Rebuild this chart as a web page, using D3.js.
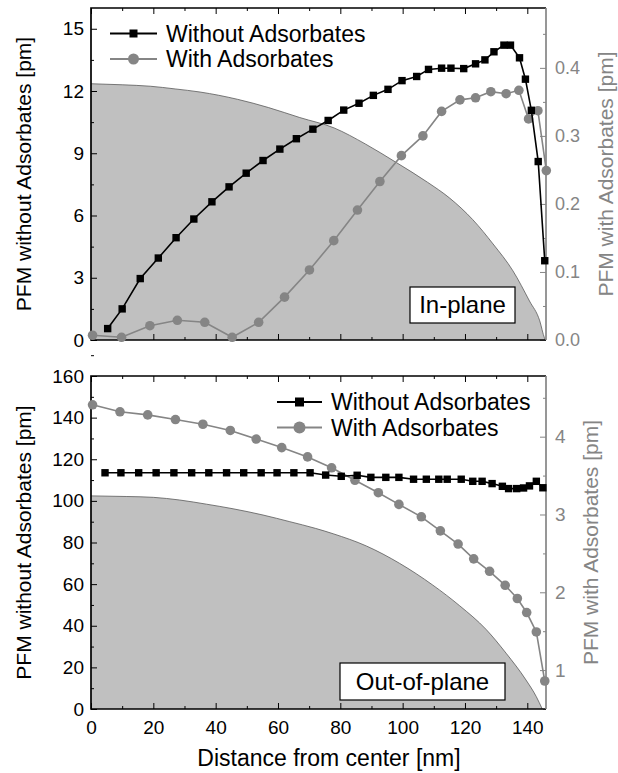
<!DOCTYPE html>
<html>
<head>
<meta charset="utf-8">
<script src="https://cdn.jsdelivr.net/npm/d3@7"></script>
<style>
  body { margin: 0; background: #fff; }
  svg text { font-family: "Liberation Sans", Arial, sans-serif; }
</style>
</head>
<body>
<div id="chart"></div>
<script>
// ---- data ----
// in-plane panel
var ipDistWithout = [5.35, 10.0, 15.8, 21.6, 27.3, 33.0, 38.8, 44.3, 49.8, 55.2, 60.6, 65.9, 71.2, 76.1, 81.1, 86.0, 90.6, 95.3, 99.8, 104.5, 108.3, 112.5, 115.5, 119.6, 123.4, 126.4, 129.3, 132.5, 134.6, 137.5, 139.4, 141.3, 143.5, 145.6];
var ipWithout = [0.55, 1.50, 2.96, 3.95, 4.93, 5.83, 6.66, 7.38, 8.04, 8.65, 9.20, 9.70, 10.16, 10.58, 11.08, 11.41, 11.79, 12.08, 12.50, 12.70, 13.04, 13.10, 13.10, 13.08, 13.31, 13.50, 13.89, 14.21, 14.21, 13.60, 12.57, 11.07, 8.60, 3.82];
var ipDistWith = [0.5, 9.8, 18.9, 27.7, 36.5, 45.3, 53.8, 62.1, 70.1, 77.9, 85.5, 92.7, 99.6, 106.5, 112.5, 118.4, 123.4, 128.3, 133.2, 137.3, 140.4, 143.4, 146.1];
var ipWith = [0.007, 0.004, 0.021, 0.029, 0.026, 0.004, 0.026, 0.063, 0.103, 0.146, 0.191, 0.233, 0.271, 0.300, 0.336, 0.353, 0.356, 0.365, 0.362, 0.367, 0.325, 0.337, 0.249];
var ipShapeX = [0, 10, 19, 27, 35, 47, 57, 67, 78, 88, 98, 108, 115, 122.5, 129, 135.4, 140.7, 144, 145.5, 145.8];
var ipShapeY = [12.35, 12.3, 12.23, 12.1, 11.95, 11.6, 11.2, 10.72, 10.22, 9.45, 8.55, 7.6, 6.85, 5.8, 4.63, 3.33, 1.88, 0.92, 0.1, 0];

// out-of-plane panel
var opDistWithout = [4.5, 9.6, 15.3, 20.9, 26.6, 32.3, 37.8, 43.5, 49.0, 54.6, 59.7, 65.1, 70.3, 75.3, 80.3, 85.4, 89.8, 94.6, 98.8, 103.5, 107.6, 111.6, 114.3, 118.8, 122.5, 125.5, 128.7, 132.0, 134.0, 136.6, 138.8, 140.7, 142.9, 145.0];
var opWithout = [113.5, 113.5, 113.5, 113.5, 113.5, 113.5, 113.5, 113.5, 113.5, 113.5, 113.5, 113.5, 113.5, 112.4, 111.8, 112.3, 111.3, 111.3, 111.3, 110.4, 110.4, 110.4, 110.4, 110.4, 109.4, 109.4, 108.3, 107.0, 105.9, 105.9, 106.2, 107.2, 109.4, 106.3];
var opDistWith = [0.5, 9.3, 18.2, 27.1, 35.9, 44.7, 53.0, 61.2, 69.5, 77.2, 84.7, 92.2, 98.8, 106.0, 112.1, 117.8, 122.8, 127.9, 132.9, 136.8, 139.8, 142.9, 145.6];
var opWith = [4.41, 4.32, 4.28, 4.22, 4.16, 4.08, 3.97, 3.86, 3.74, 3.60, 3.44, 3.28, 3.13, 2.97, 2.79, 2.62, 2.43, 2.27, 2.09, 1.92, 1.74, 1.49, 0.86];
var opShapeX = [0, 11.5, 20, 28.5, 37.1, 45.6, 55.2, 63.8, 72, 77.7, 88.4, 99, 109.7, 118.3, 126.8, 133.2, 139.6, 142.9, 144.8];
var opShapeY = [102.4, 102.1, 101.7, 100.4, 98.4, 96.2, 93.2, 90, 86.8, 84.2, 78.3, 70, 59.5, 49.6, 38.2, 26.8, 13.9, 5.9, 0];

var xTicksMajor = [0, 20, 40, 60, 80, 100, 120, 140];
var xTicksMinor = [10, 30, 50, 70, 90, 110, 130];
var ipLeftTicks = [0, 3, 6, 9, 12, 15];
var ipRightTicks = [0.0, 0.1, 0.2, 0.3, 0.4];
var opLeftTicks = [0, 20, 40, 60, 80, 100, 120, 140, 160];
var opRightTicks = [1, 2, 3, 4];

var legendLabels = ["Without Adsorbates", "With Adsorbates"];

var GRAY = "#858585";
var FILL = "#c0c0c0";

var svg = d3.select("#chart").append("svg")
    .attr("width", 618)
    .attr("height", 773);

var x = d3.scaleLinear().domain([0, 146]).range([91, 546]);

function zip(a, b) { return a.map(function(d, i) { return [d, b[i]]; }); }

function minorOf(ticks, step) {
  var out = [];
  for (var i = 0; i < ticks.length; i++) out.push(ticks[i] + step);
  return out;
}

function panel(opt) {
  var yL = d3.scaleLinear().domain(opt.leftDomain).range([opt.bottom, opt.top]);
  var yR = d3.scaleLinear().domain(opt.rightDomain).range([opt.bottom, opt.top]);
  var g = svg.append("g");

  // gray cross-section shape
  var shape = zip(opt.shapeX, opt.shapeY);
  g.append("path")
    .datum(shape)
    .attr("fill", FILL)
    .attr("d", d3.area()
      .x(function(d) { return x(d[0]); })
      .y0(yL(0))
      .y1(function(d) { return yL(d[1]); })
      .curve(d3.curveMonotoneX));
  g.append("path")
    .datum(shape)
    .attr("fill", "none")
    .attr("stroke", "#5a5a5a")
    .attr("stroke-width", 0.8)
    .attr("d", d3.line()
      .x(function(d) { return x(d[0]); })
      .y(function(d) { return yL(d[1]); })
      .curve(d3.curveMonotoneX));

  // label box
  var bx = g.append("g");
  bx.append("rect")
    .attr("x", opt.box[0]).attr("y", opt.box[1])
    .attr("width", opt.box[2]).attr("height", opt.box[3])
    .attr("fill", "#fff").attr("stroke", "#000").attr("stroke-width", 1.2);
  bx.append("text")
    .attr("x", opt.box[0] + opt.box[2] / 2)
    .attr("y", opt.box[1] + opt.box[3] / 2 + 8)
    .attr("text-anchor", "middle")
    .attr("font-size", 24)
    .text(opt.boxLabel);

  // axes: bottom / top x
  var xb = d3.axisBottom(x).tickValues(xTicksMajor).tickSize(-6).tickPadding(12)
    .tickFormat(opt.showX ? d3.format("d") : "");
  var xbm = d3.axisBottom(x).tickValues(xTicksMinor).tickSize(-3).tickFormat("");
  var xt = d3.axisTop(x).tickValues(xTicksMajor).tickSize(-6).tickFormat("");
  var xtm = d3.axisTop(x).tickValues(xTicksMinor).tickSize(-3).tickFormat("");
  [[xb, opt.bottom], [xbm, opt.bottom], [xt, opt.top], [xtm, opt.top]].forEach(function(a) {
    g.append("g").attr("transform", "translate(0," + a[1] + ")").call(a[0])
      .attr("font-size", 19).attr("font-family", null)
      .call(function(s) { s.select(".domain").remove(); });
  });

  // left axis
  g.append("g").attr("transform", "translate(91,0)")
    .call(d3.axisLeft(yL).tickValues(opt.leftTicks).tickSize(-6).tickPadding(7).tickFormat(d3.format("d")))
    .attr("font-size", 19).attr("font-family", null)
    .call(function(s) { s.select(".domain").remove(); });
  g.append("g").attr("transform", "translate(91,0)")
    .call(d3.axisLeft(yL).tickValues(opt.leftMinor).tickSize(-3).tickFormat(""))
    .call(function(s) { s.select(".domain").remove(); });

  // right axis
  var ra = g.append("g").attr("transform", "translate(546,0)")
    .call(d3.axisRight(yR).tickValues(opt.rightTicks).tickSize(-6).tickPadding(9).tickFormat(opt.rightFormat))
    .attr("font-size", opt.rightFont).attr("font-family", null)
    .call(function(s) { s.select(".domain").remove(); });
  ra.selectAll("line").attr("stroke", GRAY);
  ra.selectAll("text").attr("fill", GRAY);
  g.append("g").attr("transform", "translate(546,0)")
    .call(d3.axisRight(yR).tickValues(opt.rightMinor).tickSize(-3).tickFormat(""))
    .call(function(s) { s.select(".domain").remove(); s.selectAll("line").attr("stroke", GRAY); });

  // frame
  g.append("path")
    .attr("d", "M546," + opt.top + "H91V" + opt.bottom + "H546")
    .attr("fill", "none").attr("stroke", "#000").attr("stroke-width", 1.7);
  g.append("line")
    .attr("x1", 546).attr("x2", 546).attr("y1", opt.top).attr("y2", opt.bottom)
    .attr("stroke", GRAY).attr("stroke-width", 1.7);

  // series: with adsorbates (gray circles, right axis)
  var withPts = zip(opt.withX, opt.withY);
  g.append("path").datum(withPts)
    .attr("fill", "none").attr("stroke", GRAY).attr("stroke-width", 1.6)
    .attr("d", d3.line().x(function(d) { return x(d[0]); }).y(function(d) { return yR(d[1]); }));
  g.selectAll(".cir").data(withPts).enter().append("circle")
    .attr("cx", function(d) { return x(d[0]); })
    .attr("cy", function(d) { return yR(d[1]); })
    .attr("r", 4.8).attr("fill", GRAY);

  // series: without adsorbates (black squares, left axis)
  var woPts = zip(opt.woX, opt.woY);
  g.append("path").datum(woPts)
    .attr("fill", "none").attr("stroke", "#000").attr("stroke-width", 1.6)
    .attr("d", d3.line().x(function(d) { return x(d[0]); }).y(function(d) { return yL(d[1]); }));
  g.selectAll(".sq").data(woPts).enter().append("rect")
    .attr("x", function(d) { return x(d[0]) - 3.7; })
    .attr("y", function(d) { return yL(d[1]) - 3.7; })
    .attr("width", 7.4).attr("height", 7.4).attr("fill", "#000");

  // legend
  var lg = g.append("g");
  var lx = opt.legend[0], ly = opt.legend[1], lw = opt.legend[2];
  lg.append("line").attr("x1", lx).attr("x2", lx + lw).attr("y1", ly).attr("y2", ly)
    .attr("stroke", "#000").attr("stroke-width", 1.8);
  lg.append("rect").attr("x", lx + lw / 2 - opt.legendSq / 2).attr("y", ly - opt.legendSq / 2)
    .attr("width", opt.legendSq).attr("height", opt.legendSq).attr("fill", "#000");
  lg.append("line").attr("x1", lx).attr("x2", lx + lw).attr("y1", ly + opt.legendGap).attr("y2", ly + opt.legendGap)
    .attr("stroke", GRAY).attr("stroke-width", 1.8);
  lg.append("circle").attr("cx", lx + lw / 2).attr("cy", ly + opt.legendGap)
    .attr("r", opt.legendSq / 2 + 1.5).attr("fill", GRAY);
  legendLabels.forEach(function(t, i) {
    lg.append("text").attr("x", lx + lw + 9).attr("y", ly + i * opt.legendGap + 8)
      .attr("font-size", 23).text(t);
  });

  // axis titles
  svg.append("text")
    .attr("transform", "translate(31," + ((opt.top + opt.bottom) / 2) + ") rotate(-90)")
    .attr("text-anchor", "middle").attr("font-size", 21)
    .text("PFM without Adsorbates [pm]");
  svg.append("text")
    .attr("transform", "translate(" + opt.rightTitleX + "," + ((opt.top + opt.bottom) / 2) + ") rotate(-90)")
    .attr("text-anchor", "middle").attr("font-size", 21).attr("fill", GRAY)
    .text("PFM with Adsorbates [pm]");
}

panel({
  top: 8, bottom: 340,
  leftDomain: [0, 16], rightDomain: [0, 0.488],
  leftTicks: ipLeftTicks, leftMinor: minorOf(ipLeftTicks, 1.5),
  rightTicks: ipRightTicks, rightMinor: minorOf(ipRightTicks, 0.05),
  rightFormat: d3.format(".1f"), rightFont: 18,
  shapeX: ipShapeX, shapeY: ipShapeY,
  withX: ipDistWith, withY: ipWith,
  woX: ipDistWithout, woY: ipWithout,
  box: [410, 287, 105, 36], boxLabel: "In-plane",
  showX: false,
  legend: [110, 33.5, 47], legendSq: 8, legendGap: 25.5,
  rightTitleX: 613
});

panel({
  top: 376, bottom: 709,
  leftDomain: [0, 160], rightDomain: [0.5, 4.78],
  leftTicks: opLeftTicks, leftMinor: minorOf(opLeftTicks, 10),
  rightTicks: opRightTicks, rightMinor: minorOf([0, 1, 2, 3, 4], 0.5).filter(function(v) { return v < 4.78; }),
  rightFormat: d3.format("d"), rightFont: 19,
  shapeX: opShapeX, shapeY: opShapeY,
  withX: opDistWith, withY: opWith,
  woX: opDistWithout, woY: opWithout,
  box: [340, 663, 165, 37], boxLabel: "Out-of-plane",
  showX: true,
  legend: [277, 402, 45], legendSq: 9, legendGap: 25.5,
  rightTitleX: 598
});

svg.append("text")
  .attr("x", 329).attr("y", 766)
  .attr("text-anchor", "middle").attr("font-size", 23)
  .text("Distance from center [nm]");
</script>
</body>
</html>
